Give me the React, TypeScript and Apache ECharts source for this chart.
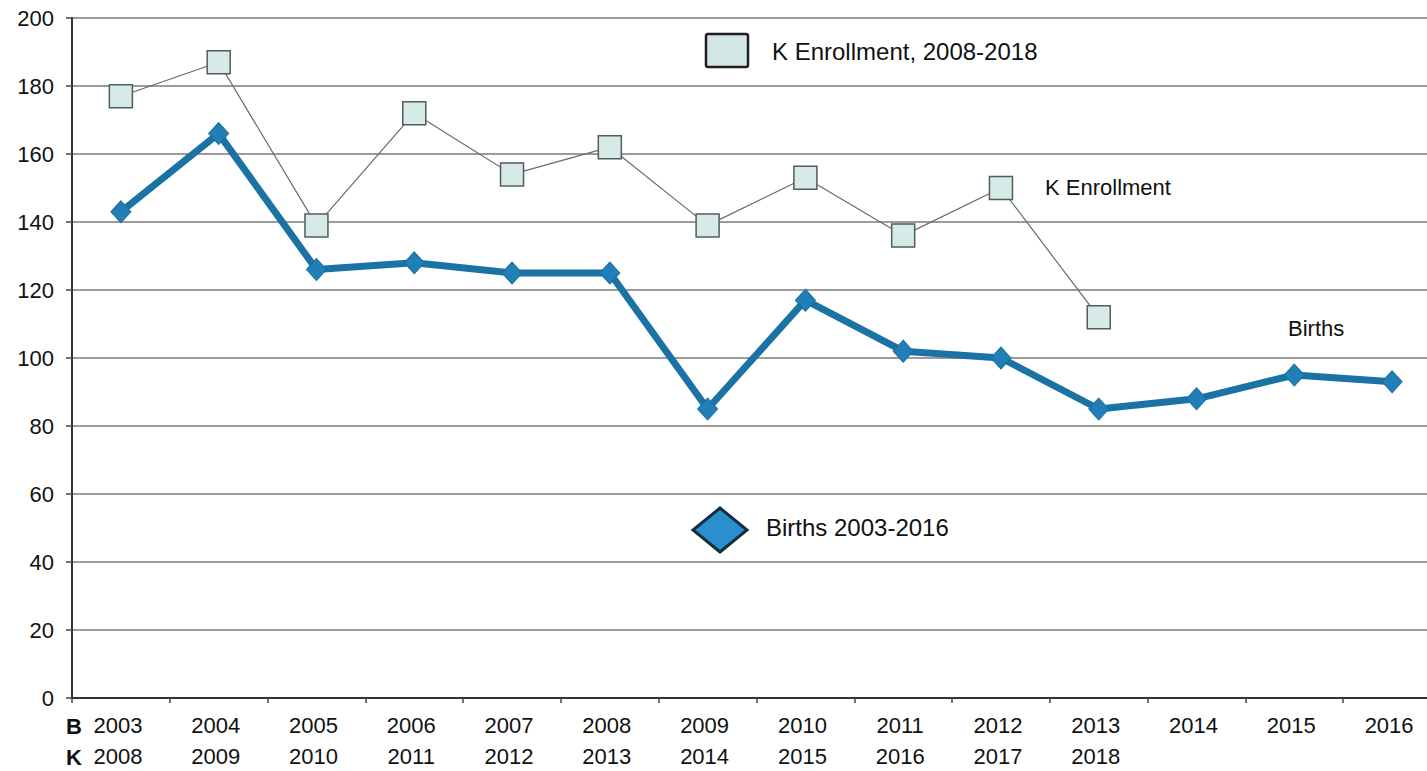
import React, { useEffect, useRef } from "react";
import * as echarts from "echarts";

const birthYears = ["2003", "2004", "2005", "2006", "2007", "2008", "2009", "2010", "2011", "2012", "2013", "2014", "2015", "2016"];
const kYears = ["2008", "2009", "2010", "2011", "2012", "2013", "2014", "2015", "2016", "2017", "2018", "", "", ""];
const kEnrollment = [177, 187, 139, 172, 154, 162, 139, 153, 136, 150, 112, null, null, null];
const births = [143, 166, 126, 128, 125, 125, 85, 117, 102, 100, 85, 88, 95, 93];
const yTicks = { min: 0, max: 200, interval: 20 };

const FONT = "'Liberation Sans', Arial, sans-serif";
const TXT = "#111111";

export default function App() {
  const ref = useRef<HTMLDivElement>(null);
  useEffect(() => {
    if (!ref.current) return;
    const chart = echarts.init(ref.current, null, { renderer: "svg" });
    const categories = birthYears.map((b, i) => (kYears[i] ? b + "\n" + kYears[i] : b));
    chart.setOption({
      animation: false,
      backgroundColor: "#ffffff",
      textStyle: { fontFamily: FONT },
      grid: { left: 72, top: 18, bottom: 73, right: -14, outerBoundsMode: "none" },
      xAxis: {
        type: "category",
        data: categories,
        boundaryGap: true,
        axisLine: { lineStyle: { color: "#333", width: 2 } },
        axisTick: { show: true, length: 5, lineStyle: { color: "#444", width: 1.5 } },
        axisLabel: {
          interval: 0,
          margin: 12,
          color: TXT,
          fontFamily: FONT,
          fontSize: 22,
          lineHeight: 31,
          verticalAlign: "top",
          padding: [0, 6, 0, 0],
        },
        splitLine: { show: false },
      },
      yAxis: {
        type: "value",
        min: yTicks.min,
        max: yTicks.max,
        interval: yTicks.interval,
        axisLine: { show: true, lineStyle: { color: "#333", width: 2 } },
        axisTick: { show: true, length: 6, lineStyle: { color: "#444", width: 1.5 } },
        axisLabel: { color: TXT, fontFamily: FONT, fontSize: 22, margin: 18 },
        splitLine: { show: true, lineStyle: { color: "#7a7a7a", width: 1.5 } },
      },
      series: [
        {
          name: "K Enrollment, 2008-2018",
          type: "line",
          data: kEnrollment,
          symbol: "rect",
          symbolSize: 23,
          lineStyle: { color: "#6a6a6a", width: 1.2 },
          itemStyle: { color: "#d6eae7", borderColor: "#4f5d5d", borderWidth: 1.5 },
          z: 3,
        },
        {
          name: "Births 2003-2016",
          type: "line",
          data: births,
          symbol: "diamond",
          symbolSize: [20, 22],
          lineStyle: { color: "#1b72a4", width: 7 },
          itemStyle: { color: "#1f7fb6", borderColor: "#1a6e9e", borderWidth: 1 },
          z: 4,
        },
      ],
      graphic: [
        { type: "text", left: 66, top: 715, style: { text: "B", font: `bold 22px ${FONT}`, fill: TXT } },
        { type: "text", left: 66, top: 746, style: { text: "K", font: `bold 22px ${FONT}`, fill: TXT } },
        {
          type: "rect",
          shape: { x: 706, y: 34, width: 42, height: 33, r: 2 },
          style: { fill: "#d3e8e6", stroke: "#1f1f1f", lineWidth: 2.5 },
        },
        {
          type: "text",
          x: 772,
          y: 51,
          style: { text: "K Enrollment, 2008-2018", font: `24px ${FONT}`, fill: TXT, verticalAlign: "middle" },
        },
        {
          type: "polygon",
          shape: { points: [[720, 508], [747, 530], [720, 552], [693, 530]] },
          style: { fill: "#2a8fcc", stroke: "#14303f", lineWidth: 3 },
        },
        {
          type: "text",
          x: 766,
          y: 527,
          style: { text: "Births 2003-2016", font: `24px ${FONT}`, fill: TXT, verticalAlign: "middle" },
        },
        {
          type: "text",
          x: 1045,
          y: 187,
          style: { text: "K Enrollment", font: `22px ${FONT}`, fill: TXT, verticalAlign: "middle" },
        },
        {
          type: "text",
          x: 1288,
          y: 328,
          style: { text: "Births", font: `22px ${FONT}`, fill: TXT, verticalAlign: "middle" },
        },
      ],
    });
    return () => chart.dispose();
  }, []);
  return (
    <div
      ref={ref}
      style={{ position: "fixed", left: 0, top: 0, width: 1427, height: 771, background: "#fff" }}
    />
  );
}
